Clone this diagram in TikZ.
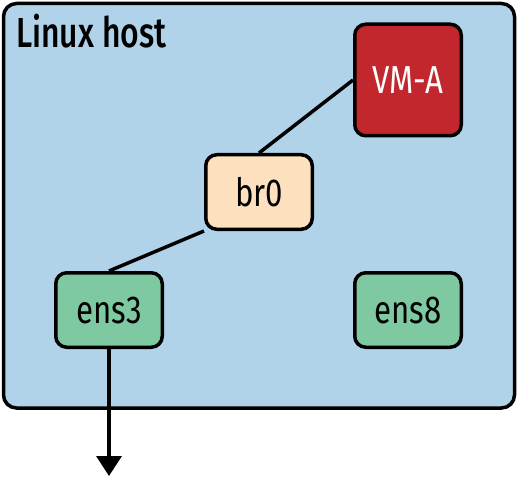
\documentclass[tikz,border=0pt]{standalone}
\usepackage{fontspec}
\setmainfont{Fira Sans}[FakeStretch=0.8]
\newfontfamily\titlefont{Fira Sans Medium}[FakeStretch=0.76]
\usetikzlibrary{arrows.meta}
\definecolor{hostblue}{RGB}{176,211,234}
\definecolor{vmred}{RGB}{193,39,45}
\definecolor{brpeach}{RGB}{253,224,190}
\definecolor{ensgreen}{RGB}{127,201,162}
\begin{document}
\begin{tikzpicture}[x=1pt,y=-1pt,
    box/.style={draw,line width=3.5pt,rounded corners=11pt,minimum width=106.5pt,minimum height=74.5pt,
        inner sep=0pt,font=\fontsize{39}{42}\selectfont},
    link/.style={line width=3.5pt}]
    \useasboundingbox (0,0) rectangle (518,478);
    % host frame
    \draw[line width=3.5pt,rounded corners=13pt,fill=hostblue] (3.5,3.5) rectangle (514.5,408);
    \node[anchor=north west,inner sep=0pt,font=\fontsize{42}{46}\titlefont] (host) at (16,14) {Linux host};
    % devices
    \node[box,fill=vmred,text=white,minimum height=111.5pt] (vma) at (408,80) {VM-A};
    \node[box,fill=brpeach] (br0) at (259,192) {br0};
    \node[box,fill=ensgreen] (ens3) at (109,310) {ens3};
    \node[box,fill=ensgreen] (ens8) at (408,310) {ens8};
    \coordinate (out) at (109,476);
    % links
    \draw[link] (vma.west) -- (br0.north);
    \draw[link] (br0.south west) -- (ens3.north);
    \draw[link,-{Triangle[width=25pt,length=20pt]}] (ens3.south) -- (out);
\end{tikzpicture}
\end{document}
